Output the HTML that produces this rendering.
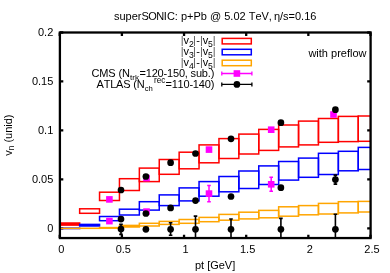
<!DOCTYPE html>
<html><head><meta charset="utf-8"><title>plot</title>
<style>
html,body{margin:0;padding:0;background:#fff;}
svg{display:block;will-change:transform;font-family:"Liberation Sans",sans-serif;font-size:11px;fill:#000;font-kerning:none;}
</style></head><body>
<svg width="390" height="273" viewBox="0 0 390 273">
<rect width="390" height="273" fill="#fff"/>
<defs><clipPath id="c"><rect x="59.9" y="32.5" width="310.70000000000005" height="205.55"/></clipPath></defs>
<path d="M59.75 238.05v-3.4M59.75 32.5v3.4M121.90 238.05v-3.4M121.90 32.5v3.4M184.05 238.05v-3.4M184.05 32.5v3.4M246.20 238.05v-3.4M246.20 32.5v3.4M308.35 238.05v-3.4M308.35 32.5v3.4M370.50 238.05v-3.4M370.50 32.5v3.4M59.9 228.30h3.4M370.6 228.30h-3.4M59.9 179.35h3.4M370.6 179.35h-3.4M59.9 130.40h3.4M370.6 130.40h-3.4M59.9 81.45h3.4M370.6 81.45h-3.4M59.9 32.50h3.4M370.6 32.50h-3.4" stroke="#000" stroke-width="2.3" fill="none"/>
<g clip-path="url(#c)">
<g fill="none" stroke="#ff0000" stroke-width="1.5" stroke-linejoin="miter"><rect fill="#ff0000" x="59.75" y="223.00" width="19.90" height="2.10"/><rect x="79.65" y="208.80" width="19.90" height="4.50"/><rect x="99.55" y="192.20" width="19.90" height="8.30"/><rect x="119.45" y="178.70" width="19.90" height="11.80"/><rect x="139.35" y="168.10" width="19.90" height="13.50"/><rect x="159.25" y="159.50" width="19.90" height="14.80"/><rect x="179.15" y="152.20" width="19.90" height="16.60"/><rect x="199.05" y="144.90" width="19.90" height="17.90"/><rect x="218.95" y="138.60" width="19.90" height="19.90"/><rect x="238.85" y="134.10" width="19.90" height="19.90"/><rect x="258.75" y="129.40" width="19.90" height="21.00"/><rect x="278.65" y="125.00" width="19.90" height="21.90"/><rect x="298.55" y="121.10" width="19.90" height="23.80"/><rect x="318.45" y="118.50" width="19.90" height="23.80"/><rect x="338.35" y="116.40" width="19.90" height="25.20"/><rect x="358.25" y="116.00" width="12.35" height="25.30"/></g>
<g fill="none" stroke="#0000ff" stroke-width="1.5" stroke-linejoin="miter"><rect fill="#0000ff" x="59.75" y="228.15" width="19.90" height="0.40"/><rect fill="#0000ff" x="79.65" y="224.40" width="19.90" height="1.60"/><rect x="99.55" y="216.50" width="19.90" height="4.20"/><rect x="119.45" y="209.20" width="19.90" height="5.80"/><rect x="139.35" y="201.70" width="19.90" height="8.40"/><rect x="159.25" y="194.90" width="19.90" height="10.70"/><rect x="179.15" y="187.90" width="19.90" height="13.00"/><rect x="199.05" y="181.60" width="19.90" height="14.60"/><rect x="218.95" y="176.50" width="19.90" height="15.30"/><rect x="238.85" y="171.00" width="19.90" height="17.50"/><rect x="258.75" y="165.90" width="19.90" height="18.60"/><rect x="278.65" y="161.50" width="19.90" height="18.60"/><rect x="298.55" y="158.10" width="19.90" height="19.20"/><rect x="318.45" y="153.30" width="19.90" height="21.20"/><rect x="338.35" y="151.30" width="19.90" height="19.50"/><rect x="358.25" y="147.40" width="12.35" height="22.10"/></g>
<g fill="none" stroke="#ffa500" stroke-width="1.5" stroke-linejoin="miter"><rect fill="#ffa500" x="59.75" y="228.35" width="19.90" height="0.01"/><rect fill="#ffa500" x="79.65" y="228.30" width="19.90" height="0.05"/><rect fill="#ffa500" x="99.55" y="227.60" width="19.90" height="0.60"/><rect fill="#ffa500" x="119.45" y="225.40" width="19.90" height="1.60"/><rect x="139.35" y="223.30" width="19.90" height="2.70"/><rect x="159.25" y="221.40" width="19.90" height="3.00"/><rect x="179.15" y="219.50" width="19.90" height="3.80"/><rect x="199.05" y="217.40" width="19.90" height="4.30"/><rect x="218.95" y="214.40" width="19.90" height="5.80"/><rect x="238.85" y="212.20" width="19.90" height="6.70"/><rect x="258.75" y="210.40" width="19.90" height="7.40"/><rect x="278.65" y="206.80" width="19.90" height="9.40"/><rect x="298.55" y="205.60" width="19.90" height="9.20"/><rect x="318.45" y="203.40" width="19.90" height="10.60"/><rect x="338.35" y="201.70" width="19.90" height="11.20"/><rect x="358.25" y="201.40" width="12.35" height="10.60"/></g>
<rect x="106.10" y="196.10" width="6.6" height="6.6" fill="#ff00ff"/><rect x="143.20" y="174.80" width="6.6" height="6.6" fill="#ff00ff"/><rect x="205.70" y="146.30" width="6.6" height="6.6" fill="#ff00ff"/><rect x="267.90" y="126.40" width="6.6" height="6.6" fill="#ff00ff"/><rect x="330.20" y="111.20" width="6.6" height="6.6" fill="#ff00ff"/><rect x="106.10" y="217.80" width="6.6" height="6.6" fill="#ff00ff"/><rect x="143.20" y="208.30" width="6.6" height="6.6" fill="#ff00ff"/><path d="M209.00 185.50V201.70M207.20 185.50h3.6M207.20 201.70h3.6" stroke="#ff00ff" stroke-width="1.5" fill="none"/><rect x="205.70" y="190.30" width="6.6" height="6.6" fill="#ff00ff"/><path d="M271.20 177.30V191.30M269.40 177.30h3.6M269.40 191.30h3.6" stroke="#ff00ff" stroke-width="1.5" fill="none"/><rect x="267.90" y="181.00" width="6.6" height="6.6" fill="#ff00ff"/>
<circle cx="121.00" cy="190.00" r="3.35" fill="#000"/><circle cx="145.90" cy="176.50" r="3.35" fill="#000"/><circle cx="170.60" cy="162.70" r="3.35" fill="#000"/><circle cx="195.50" cy="153.50" r="3.35" fill="#000"/><circle cx="231.00" cy="138.80" r="3.35" fill="#000"/><circle cx="280.90" cy="122.70" r="3.35" fill="#000"/><circle cx="335.40" cy="109.70" r="3.35" fill="#000"/><circle cx="121.00" cy="219.10" r="3.35" fill="#000"/><circle cx="145.90" cy="213.50" r="3.35" fill="#000"/><circle cx="170.60" cy="207.90" r="3.35" fill="#000"/><circle cx="195.50" cy="200.60" r="3.35" fill="#000"/><circle cx="231.00" cy="196.50" r="3.35" fill="#000"/><circle cx="280.90" cy="187.70" r="3.35" fill="#000"/><path d="M335.40 175.10V184.10M333.60 175.10h3.6M333.60 184.10h3.6" stroke="#000" stroke-width="1.6" fill="none"/><circle cx="335.40" cy="179.60" r="3.35" fill="#000"/><path d="M121.00 224.40V234.40M119.20 224.40h3.6M119.20 234.40h3.6" stroke="#000" stroke-width="1.6" fill="none"/><circle cx="121.00" cy="229.10" r="3.35" fill="#000"/><circle cx="145.90" cy="229.30" r="3.35" fill="#000"/><path d="M170.60 222.80V235.20M168.80 222.80h3.6M168.80 235.20h3.6" stroke="#000" stroke-width="1.6" fill="none"/><circle cx="170.60" cy="229.30" r="3.35" fill="#000"/><path d="M195.50 216.10V245.00M193.70 216.10h3.6M193.70 245.00h3.6" stroke="#000" stroke-width="1.6" fill="none"/><circle cx="195.50" cy="229.30" r="3.35" fill="#000"/><path d="M231.00 219.00V245.00M229.20 219.00h3.6M229.20 245.00h3.6" stroke="#000" stroke-width="1.6" fill="none"/><circle cx="231.00" cy="229.30" r="3.35" fill="#000"/><path d="M280.90 218.40V245.00M279.10 218.40h3.6M279.10 245.00h3.6" stroke="#000" stroke-width="1.6" fill="none"/><circle cx="280.90" cy="229.30" r="3.35" fill="#000"/><path d="M335.40 214.20V245.00M333.60 214.20h3.6M333.60 245.00h3.6" stroke="#000" stroke-width="1.6" fill="none"/><circle cx="335.40" cy="229.30" r="3.35" fill="#000"/>
</g>
<g>
<rect x="222.2" y="38.4" width="29.1" height="5.5" fill="none" stroke="#ff0000" stroke-width="1.5"/>
<rect x="222.2" y="49.3" width="29.1" height="5.5" fill="none" stroke="#0000ff" stroke-width="1.5"/>
<rect x="222.2" y="60.2" width="29.1" height="5.5" fill="none" stroke="#ffa500" stroke-width="1.5"/>
<path d="M221.8 73.5H251.9M221.8 71.5v4M251.9 71.5v4" stroke="#ff00ff" stroke-width="1.3" fill="none"/>
<rect x="233.6" y="70.2" width="6.6" height="6.6" fill="#ff00ff"/>
<path d="M221.8 84.4H251.9M221.8 82.4v4M251.9 82.4v4" stroke="#000" stroke-width="1.3" fill="none"/>
<circle cx="236.9" cy="84.4" r="3.35"/>
</g>
<rect x="59.9" y="32.5" width="310.70000000000005" height="205.55" fill="none" stroke="#000" stroke-width="2.3"/>
<text x="113.9" y="19.7">super<tspan letter-spacing="-0.48">SON</tspan>IC: p+Pb @ 5.02 TeV,</text><text x="316.4" y="19.7" text-anchor="end">η/s=0.16</text>
<text x="215.1" y="268.8" text-anchor="middle">pt [GeV]</text>
<text transform="translate(11.5,135.1) rotate(-90)" text-anchor="middle">v<tspan dy="2.6" font-size="8.2">n</tspan><tspan dy="-2.6"> (unid)</tspan></text>
<text x="366.5" y="56.7" text-anchor="end">with preflow</text>
<text y="44.2" fill="#555"><tspan x="180.8">|</tspan><tspan x="193.0">|</tspan><tspan x="200.0">|</tspan><tspan x="212.8">|</tspan></text><text y="44.2"><tspan x="183.6">v</tspan><tspan x="196.2">-</tspan><tspan x="202.7">v</tspan></text><text y="47.0" font-size="8.6"><tspan x="189.0">2</tspan><tspan x="208.0">5</tspan></text>
<text y="55.2" fill="#555"><tspan x="180.8">|</tspan><tspan x="193.0">|</tspan><tspan x="200.0">|</tspan><tspan x="212.8">|</tspan></text><text y="55.2"><tspan x="183.6">v</tspan><tspan x="196.2">-</tspan><tspan x="202.7">v</tspan></text><text y="58.0" font-size="8.6"><tspan x="189.0">3</tspan><tspan x="208.0">5</tspan></text>
<text y="66.2" fill="#555"><tspan x="180.8">|</tspan><tspan x="193.0">|</tspan><tspan x="200.0">|</tspan><tspan x="212.8">|</tspan></text><text y="66.2"><tspan x="183.6">v</tspan><tspan x="196.2">-</tspan><tspan x="202.7">v</tspan></text><text y="69.0" font-size="8.6"><tspan x="189.0">4</tspan><tspan x="208.0">5</tspan></text>
<text y="76.6"><tspan x="91.5" textLength="38.5">CMS (N</tspan><tspan x="139.5" textLength="74.8">=120-150, sub.)</tspan></text>
<text x="130.0" y="79.6" font-size="8.1">trk</text>
<text y="87.5"><tspan x="96.5" textLength="48.1">ATLAS (N</tspan><tspan x="165.4" textLength="48.9">=110-140)</tspan></text>
<text x="144.7" y="91.4" font-size="7.7">ch</text>
<text x="154.0" y="83.1" font-size="8.2">rec</text>
<text x="61.20" y="253.4" text-anchor="middle">0</text><text x="123.35" y="253.4" text-anchor="middle">0.5</text><text x="185.50" y="253.4" text-anchor="middle">1</text><text x="247.65" y="253.4" text-anchor="middle">1.5</text><text x="309.80" y="253.4" text-anchor="middle">2</text><text x="371.95" y="253.4" text-anchor="middle">2.5</text>
<text x="53.3" y="232.20" text-anchor="end">0</text><text x="53.3" y="183.25" text-anchor="end">0.05</text><text x="53.3" y="134.30" text-anchor="end">0.1</text><text x="53.3" y="85.35" text-anchor="end">0.15</text><text x="53.3" y="36.40" text-anchor="end">0.2</text>
</svg>
</body></html>
